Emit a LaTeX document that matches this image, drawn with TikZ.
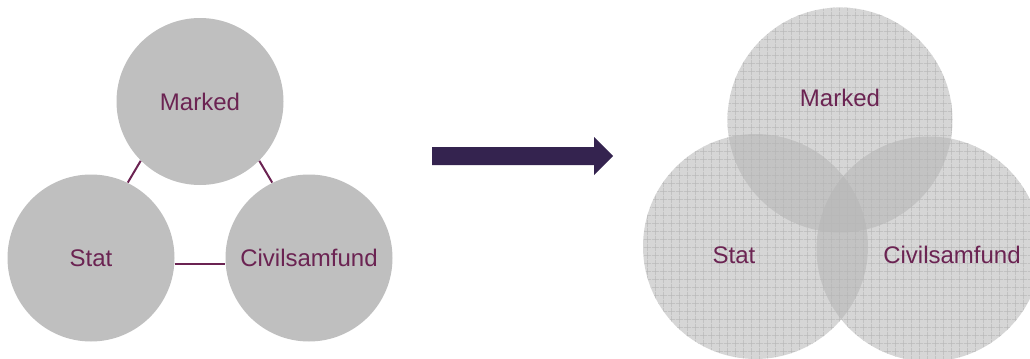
\documentclass[tikz,border=0pt]{standalone}
\usepackage{fontspec}
\setmainfont{Liberation Sans}
\usetikzlibrary{patterns.meta}
\definecolor{plum}{HTML}{6B2352}
\definecolor{ink}{HTML}{34234F}
\definecolor{disc}{HTML}{BFBFBF}
\definecolor{veil}{HTML}{B4B4B4}

\begin{document}
\begin{tikzpicture}[x=0.5pt,y=-0.5pt,
  solid disc/.style={circle,fill=disc,minimum size=83.5pt,inner sep=0pt},
  veil disc/.style={circle,fill=veil,fill opacity=0.55,minimum size=112.5pt,inner sep=0pt},
  grid disc/.style={circle,minimum size=112.5pt,inner sep=0pt,
    pattern={Hatch[angle=0,distance=4pt,line width=0.35pt]},pattern color=gray!55},
  lbl/.style={text=plum,font=\fontsize{12}{14}\selectfont},
  tie/.style={draw=plum,line width=1pt}]
  \useasboundingbox (0,0) rectangle (1030,359);
  % before
  \node[solid disc] (m1) at (200,101.5) {};
  \node[solid disc] (s1) at (91,258) {};
  \node[solid disc] (c1) at (309,258) {};
  \node[lbl] at (m1) {Marked};
  \node[lbl] at (s1) {Stat};
  \node[lbl] at (c1) {Civilsamfund};
  \draw[tie] (m1.225) -- (s1.64);
  \draw[tie] (m1.315) -- (c1.116);
  \draw[tie] (s1.-4) -- (c1.184);
  % arrow
  \fill[ink] (432,147) -- (594,147) -- (594,137) -- (613,156) -- (594,175) -- (594,165) -- (432,165) -- cycle;
  % after
  \node[veil disc] (m2) at (840,120) {};
  \node[veil disc] (s2) at (755.5,246.5) {};
  \node[veil disc] (c2) at (929,249) {};
  \foreach \d in {m2,s2,c2} \node[grid disc] at (\d) {};
  \node[lbl] (m2t) at (840,98) {Marked};
  \node[lbl] (s2t) at (734,255) {Stat};
  \node[lbl] (c2t) at (952,255) {Civilsamfund};
\end{tikzpicture}
\end{document}
